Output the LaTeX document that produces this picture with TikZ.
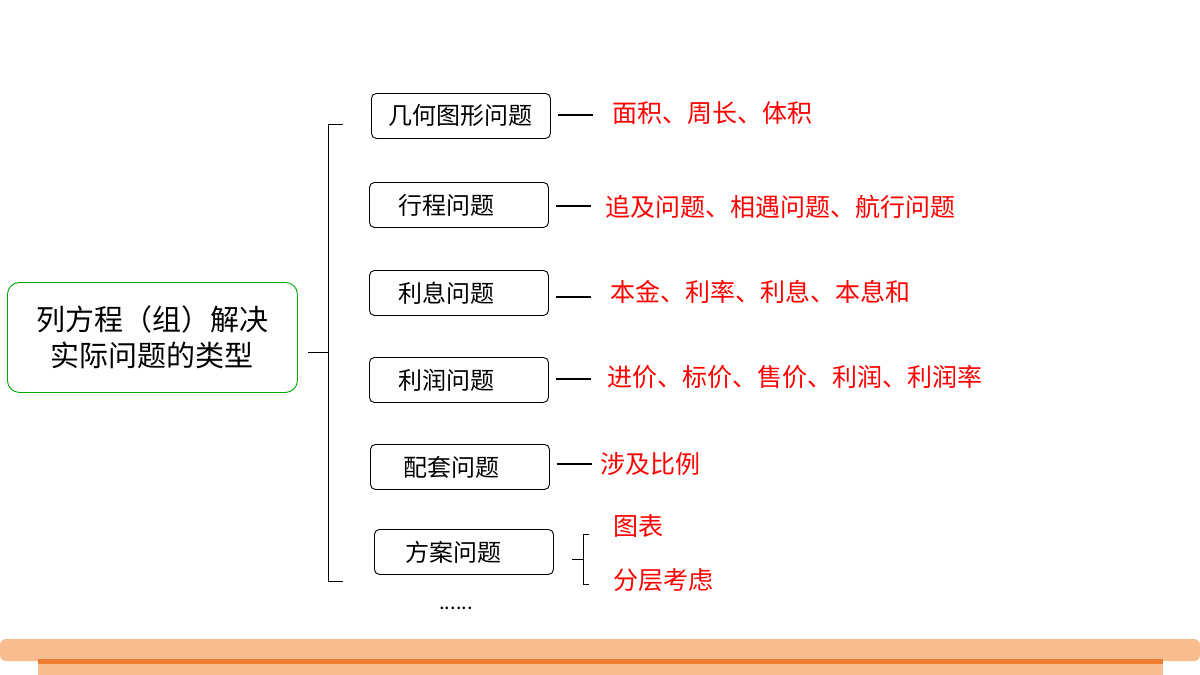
\documentclass[tikz,border=0pt]{standalone}
\usepackage{fontspec}
\newfontfamily\cjk{Noto Sans CJK SC}
\definecolor{lo}{RGB}{248,188,142}
\definecolor{do}{RGB}{237,125,49}
\begin{document}
\begin{tikzpicture}[x=1pt,y=-1pt,
  box/.style={draw=black,rounded corners=5pt,line width=0.9pt,minimum width=179pt,minimum height=45pt,text width=179pt,align=left,font=\cjk\fontsize{24}{28}\selectfont,anchor=north west,inner sep=0pt},
  red/.style={text=red,font=\cjk\fontsize{25}{28}\selectfont,anchor=west,inner sep=0pt},
  ln/.style={line width=1.2pt}]
\useasboundingbox (0,0) rectangle (1200,675);
\fill[white] (0,0) rectangle (1200,675);
\fill[lo,rounded corners=6pt] (0,639) rectangle (1200,661);
\fill[lo] (38,660) rectangle (1163,675);
\fill[do] (38,659) rectangle (1163,664);
\node[draw=green!65!black,rounded corners=12pt,line width=0.9pt,minimum width=290pt,minimum height=110pt,anchor=north west,align=center,font=\cjk\fontsize{29}{36}\selectfont] (m) at (7,282) {列方程（组）解决\\实际问题的类型};
\node[box] (b1) at (371,93) {\hspace*{17pt}几何图形问题};
\node[box] (b2) at (369,182) {\hspace*{29pt}行程问题};
\node[box] (b3) at (369,270) {\hspace*{29pt}利息问题};
\node[box] (b4) at (369,357) {\hspace*{29pt}利润问题};
\node[box] (b5) at (370,444) {\hspace*{33pt}配套问题};
\node[box] (b6) at (374,529) {\hspace*{31pt}方案问题};
\coordinate (bt) at (343,124); \coordinate (bb) at (343,581); \coordinate (bm) at (308,352);
\draw[line width=1pt] (bt) -- (328,124) -- (328,581) -- (bb);
\draw[line width=1pt] (bm) -- (328,352);
\node[red] (r1) at (612,113) {面积、周长、体积};
\node[red] (r2) at (605,207) {追及问题、相遇问题、航行问题};
\node[red] (r3) at (610,292) {本金、利率、利息、本息和};
\node[red] (r4) at (607,377) {进价、标价、售价、利润、利润率};
\node[red] (r5) at (600,464) {涉及比例};
\node[red] (r6) at (613,526) {图表};
\node[red] (r7) at (613,580) {分层考虑};
\foreach \b/\y in {b1/115,b2/206,b3/297,b4/379,b5/464}{\draw[ln] (\b.east|-0,\y) ++(7,0) -- ++(35,0);}
\coordinate (s1) at (589,534); \coordinate (s2) at (589,584);
\draw[line width=1pt] (s1) -- (583,534) -- (583,584) -- (s2);
\draw[line width=1pt] (572,559) -- (583,559);
\node[font=\cjk\fontsize{20}{22}\selectfont] (dots) at (456,608) {......};
\end{tikzpicture}
\end{document}
